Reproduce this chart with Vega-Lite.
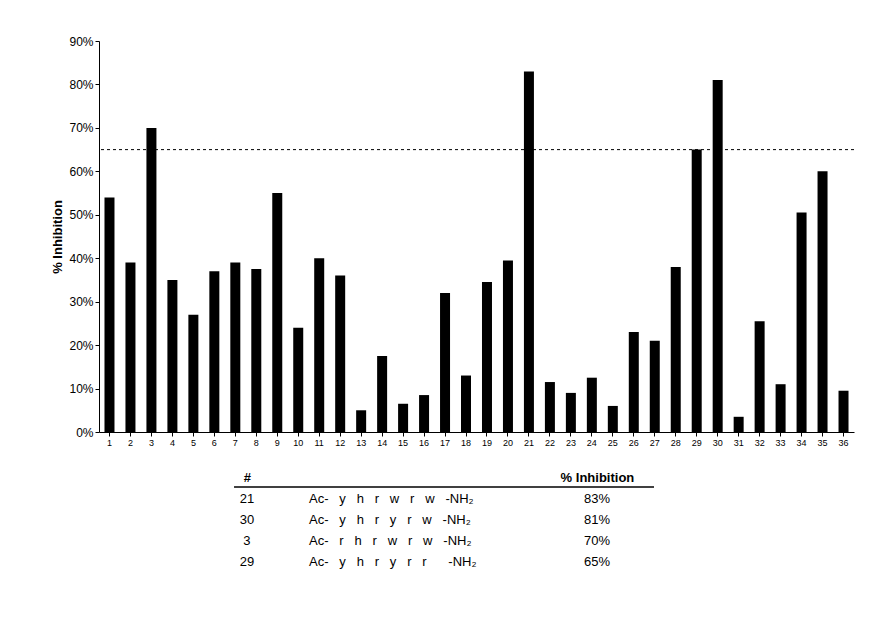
{
"$schema":"https://vega.github.io/schema/vega-lite/v6.json",
"config":{"font":"Liberation Sans","view":{"stroke":null},"axis":{"labelFont":"Liberation Sans","titleFont":"Liberation Sans"}},
"padding":{"left":51,"top":35,"right":10,"bottom":0},
"spacing":24,
"datasets":{
"bars":[{"n":1,"v":54},{"n":2,"v":39},{"n":3,"v":70},{"n":4,"v":35},{"n":5,"v":27},{"n":6,"v":37},{"n":7,"v":39},{"n":8,"v":37.5},{"n":9,"v":55},{"n":10,"v":24},{"n":11,"v":40},{"n":12,"v":36},{"n":13,"v":5},{"n":14,"v":17.5},{"n":15,"v":6.5},{"n":16,"v":8.5},{"n":17,"v":32},{"n":18,"v":13},{"n":19,"v":34.5},{"n":20,"v":39.5},{"n":21,"v":83},{"n":22,"v":11.5},{"n":23,"v":9},{"n":24,"v":12.5},{"n":25,"v":6},{"n":26,"v":23},{"n":27,"v":21},{"n":28,"v":38},{"n":29,"v":65},{"n":30,"v":81},{"n":31,"v":3.5},{"n":32,"v":25.5},{"n":33,"v":11},{"n":34,"v":50.5},{"n":35,"v":60},{"n":36,"v":9.5}],
"tbl":[{"row":1,"c":1,"val":"21"},{"row":1,"c":2,"val":"Ac-\u00a0\u00a0\u00a0y\u00a0\u00a0\u00a0h\u00a0\u00a0\u00a0r\u00a0\u00a0\u00a0w\u00a0\u00a0\u00a0r\u00a0\u00a0\u00a0w\u00a0\u00a0\u00a0-NH₂"},{"row":1,"c":3,"val":"83%"},
{"row":2,"c":1,"val":"30"},{"row":2,"c":2,"val":"Ac-\u00a0\u00a0\u00a0y\u00a0\u00a0\u00a0h\u00a0\u00a0\u00a0r\u00a0\u00a0\u00a0y\u00a0\u00a0\u00a0r\u00a0\u00a0\u00a0w\u00a0\u00a0\u00a0-NH₂"},{"row":2,"c":3,"val":"81%"},
{"row":3,"c":1,"val":"3"},{"row":3,"c":2,"val":"Ac-\u00a0\u00a0\u00a0r\u00a0\u00a0\u00a0h\u00a0\u00a0\u00a0r\u00a0\u00a0\u00a0w\u00a0\u00a0\u00a0r\u00a0\u00a0\u00a0w\u00a0\u00a0\u00a0-NH₂"},{"row":3,"c":3,"val":"70%"},
{"row":4,"c":1,"val":"29"},{"row":4,"c":2,"val":"Ac-\u00a0\u00a0\u00a0y\u00a0\u00a0\u00a0h\u00a0\u00a0\u00a0r\u00a0\u00a0\u00a0y\u00a0\u00a0\u00a0r\u00a0\u00a0\u00a0r\u00a0\u00a0\u00a0\u00a0\u00a0\u00a0-NH₂"},{"row":4,"c":3,"val":"65%"}]
},
"vconcat":[
{"width":755,"height":391,
"layer":[
{"data":{"name":"bars"},"mark":{"type":"bar","color":"black","width":10},
"encoding":{"x":{"field":"n","type":"ordinal","axis":{"title":null,"labelAngle":0,"labelFontSize":9,"tickSize":4,"domainColor":"black","tickColor":"black","labelColor":"black"}},
"y":{"field":"v","type":"quantitative","scale":{"domain":[0,90]},"axis":{"values":[0,10,20,30,40,50,60,70,80,90],"labelExpr":"datum.value+'%'","title":"% Inhibition","titleFontSize":13,"titleFontWeight":"bold","titleColor":"black","labelFontSize":12,"labelColor":"black","grid":false,"tickSize":4,"domainColor":"black","tickColor":"black"}}}},
{"data":{"values":[{"t":65}]},"mark":{"type":"rule","strokeDash":[3,3],"color":"black","strokeWidth":1},"encoding":{"y":{"field":"t","type":"quantitative"}}}
]},
{"width":755,"height":84,
"layer":[
{"data":{"name":"tbl"},"transform":[{"filter":"datum.c!=2"}],"mark":{"type":"text","fontSize":13,"color":"black"},
"encoding":{"x":{"field":"c","type":"quantitative","scale":{"domain":[0.1543,4.469],"nice":false,"zero":false},"axis":{"orient":"top","title":null,"values":[1,3],"labelExpr":"datum.value==1?'#':'% Inhibition'","labelFontWeight":"bold","labelFontSize":13,"labelColor":"black","ticks":false,"domain":false,"grid":false,"labelPadding":4,"labelFlush":false}},
"y":{"field":"row","type":"ordinal","axis":null},"text":{"field":"val"}}},
{"data":{"name":"tbl"},"transform":[{"filter":"datum.c==2"}],"mark":{"type":"text","fontSize":13,"color":"black","align":"left","dx":-113},
"encoding":{"x":{"field":"c","type":"quantitative"},"y":{"field":"row","type":"ordinal","axis":null},"text":{"field":"val"}}},
{"data":{"values":[{"a":0.926,"b":3.326}]},"mark":{"type":"rule","color":"black","strokeWidth":1.5,"yOffset":-1},"encoding":{"x":{"field":"a","type":"quantitative"},"x2":{"field":"b"},"y":{"value":0}}}
]}
]}
